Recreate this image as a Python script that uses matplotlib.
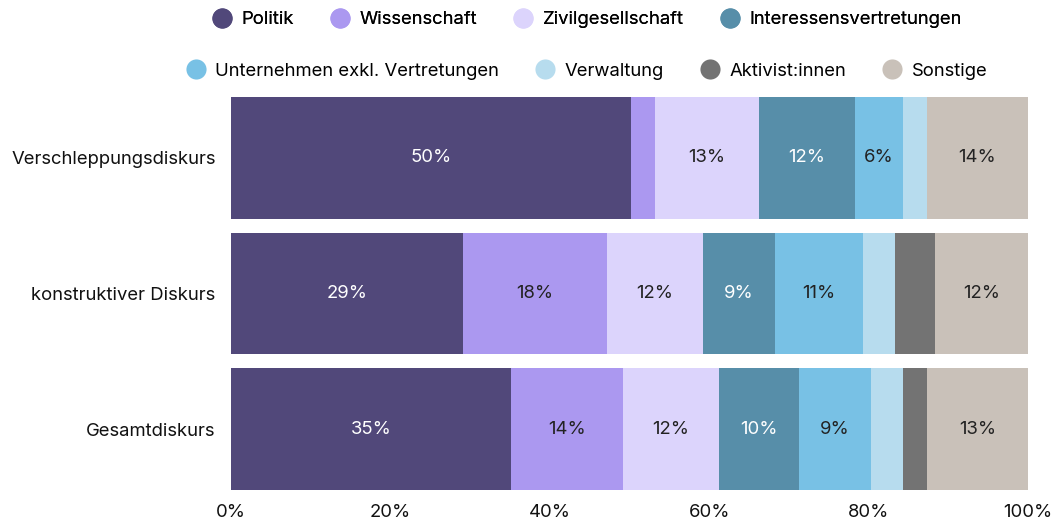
import matplotlib.pyplot as plt
from matplotlib.lines import Line2D

plt.rcParams['font.family'] = ['Inter', 'DejaVu Sans']

# rows of the chart (top to bottom)
rows = ['Verschleppungsdiskurs', 'konstruktiver Diskurs', 'Gesamtdiskurs']
categories = ['Politik', 'Wissenschaft', 'Zivilgesellschaft', 'Interessensvertretungen',
              'Unternehmen exkl. Vertretungen', 'Verwaltung', 'Aktivist:innen', 'Sonstige']
colors = ['#51487a', '#ab98f0', '#dcd4fc', '#578ea9',
          '#78c1e5', '#b7dcee', '#737373', '#c9c1b9']
text_colors = ['white', '#222222', '#222222', 'white',
               '#222222', '#222222', '#222222', '#222222']

# shares in percent, one list per row
verschleppung = [50.2, 3.0, 13.0, 12.1, 6.0, 3.0, 0.0, 12.7]
konstruktiv = [29.1, 18.1, 12.0, 9.1, 11.0, 4.0, 5.0, 11.7]
gesamt = [35.1, 14.1, 12.0, 10.1, 9.0, 4.0, 3.0, 12.7]
values = [verschleppung, konstruktiv, gesamt]

# labels shown inside the segments (None = no label)
labels_verschleppung = ['50%', None, '13%', '12%', '6%', None, None, '14%']
labels_konstruktiv = ['29%', '18%', '12%', '9%', '11%', None, None, '12%']
labels_gesamt = ['35%', '14%', '12%', '10%', '9%', None, None, '13%']
labels = [labels_verschleppung, labels_konstruktiv, labels_gesamt]

xticks = [0, 20, 40, 60, 80, 100]

fig = plt.figure(figsize=(10.59, 5.19), dpi=100)
ax = fig.add_axes([231/1059, 1-490/519, (1028-231)/1059, (490-97)/519])

for r in range(len(rows)):
    left = 0
    for c in range(len(categories)):
        v = values[r][c]
        if v > 0:
            ax.barh(r, v, left=left, height=0.9, color=colors[c], edgecolor='none')
            if labels[r][c]:
                ax.text(left + v/2, r, labels[r][c], ha='center', va='center',
                        fontsize=13.3, color=text_colors[c])
        left += v

ax.set_xlim(0, 100)
ax.set_ylim(2.45, -0.45)
ax.set_yticks(range(len(rows)))
ax.set_yticklabels(rows, fontsize=13.3, color='#111111')
ax.set_xticks(xticks)
ax.set_xticklabels([f'{t}%' for t in xticks], fontsize=13.3, color='#111111')
ax.tick_params(axis='both', length=0)
ax.tick_params(axis='x', pad=10)
ax.tick_params(axis='y', pad=11)
for s in ax.spines.values():
    s.set_visible(False)

handles = [Line2D([], [], marker='o', linestyle='none', markersize=14.5,
                  markerfacecolor=col, markeredgecolor='none') for col in colors]
leg1 = fig.legend(handles[:4], categories[:4], loc='center', ncol=4,
                  bbox_to_anchor=(586/1059, 1-20/519), frameon=False,
                  fontsize=13.3, handletextpad=0.45, columnspacing=1.9,
                  handlelength=1.2)
leg2 = fig.legend(handles[4:], categories[4:], loc='center', ncol=4,
                  bbox_to_anchor=(586/1059, 1-71/519), frameon=False,
                  fontsize=13.3, handletextpad=0.45, columnspacing=1.9,
                  handlelength=1.2)
fig.add_artist(leg1)

fig.savefig('out.png', dpi=100)
